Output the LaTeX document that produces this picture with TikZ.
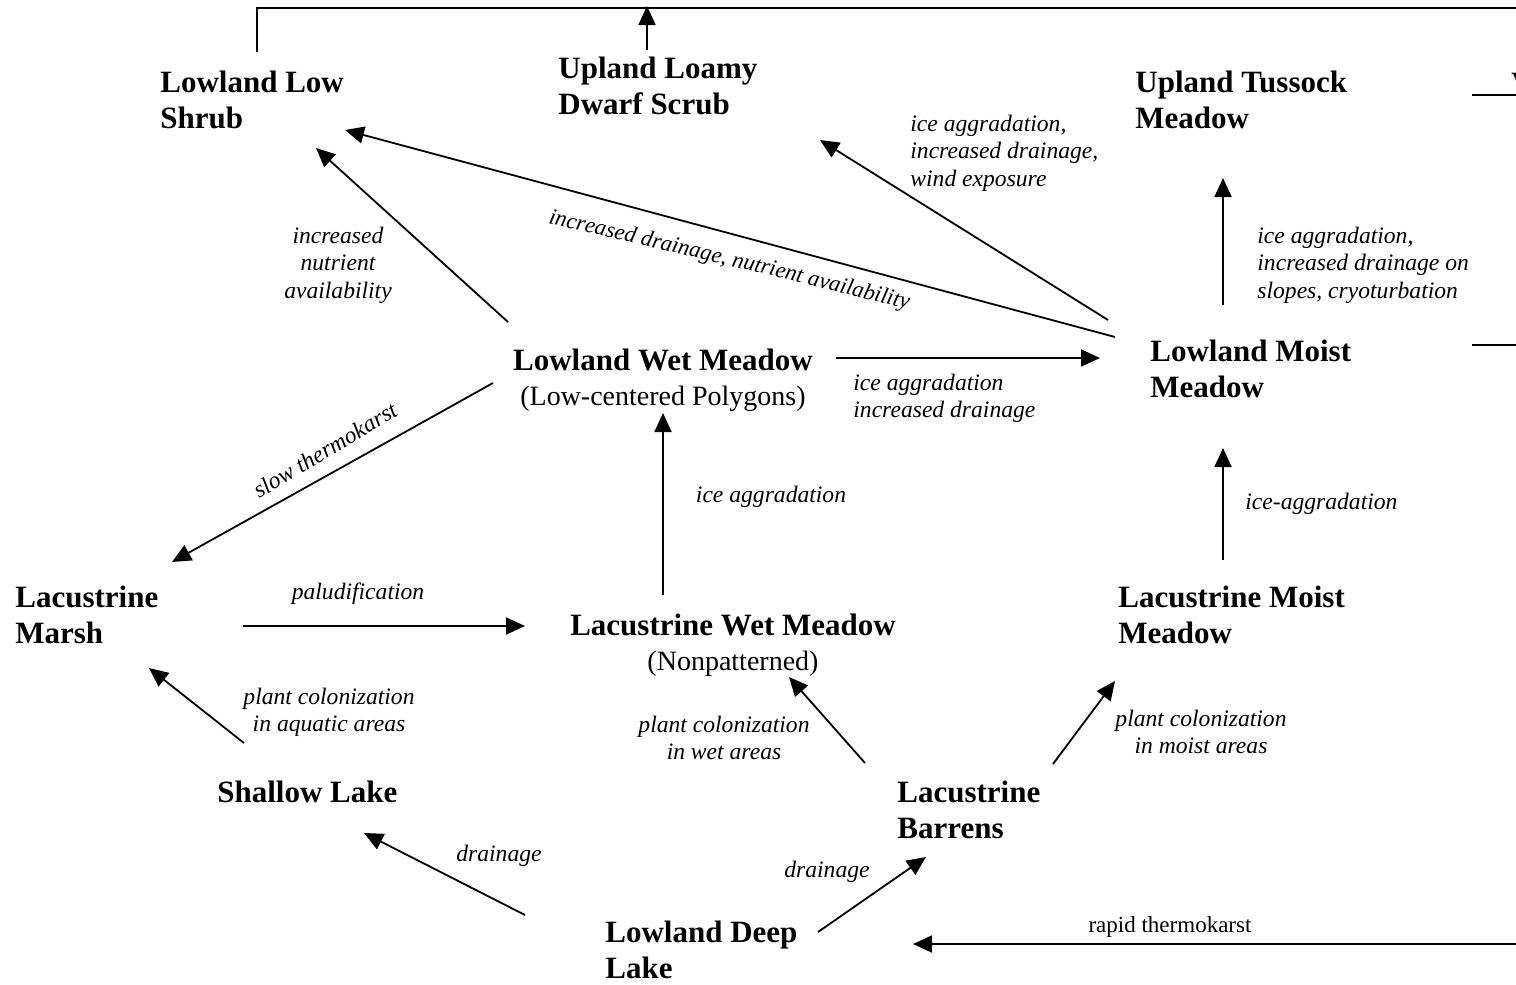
\documentclass[tikz,border=0pt]{standalone}
\usepackage{fontspec}
\setmainfont{Liberation Serif}
\usetikzlibrary{arrows.meta,decorations.text}
\begin{document}
\begin{tikzpicture}[x=0.5pt,y=-0.5pt,
  state/.style={inner sep=0pt, font=\bfseries\fontsize{15.5}{18}\selectfont, align=left, anchor=north west},
  cause/.style={inner sep=0pt, font=\itshape\fontsize{11.8}{13.75}\selectfont, align=center, anchor=north},
  causeL/.style={cause, align=left, anchor=north west},
  flow/.style={line width=0.9pt, -{Triangle[length=9.5pt,width=8.5pt]}},
  link/.style={line width=0.9pt}]
\useasboundingbox (0,0) rectangle (1516,985);

% ---- vegetation / landform states ----
\node[state] (ls)  at (160,71)  {Lowland Low\\Shrub};
\node[state] (ul)  at (558,57)  {Upland Loamy\\Dwarf Scrub};
\node[state] (ut)  at (1135,71) {Upland Tussock\\Meadow};
\node[state] (vx)  at (1511,73) {V};
\node[state, align=center, anchor=north, font=\fontsize{15.5}{17.5}\selectfont] (wm) at (663,349)
  {\textbf{Lowland Wet Meadow}\\{\fontsize{14}{17.5}\selectfont (Low-centered Polygons)}};
\node[state] (mm)  at (1150,340) {Lowland Moist\\Meadow};
\node[state] (lm)  at (15,586)   {Lacustrine\\Marsh};
\node[state, align=center, anchor=north, font=\fontsize{15.5}{17.5}\selectfont] (lwm) at (733,614)
  {\textbf{Lacustrine Wet Meadow}\\{\fontsize{14}{17.5}\selectfont (Nonpatterned)}};
\node[state] (lmm) at (1118,586) {Lacustrine Moist\\Meadow};
\node[state] (sl)  at (217,781)  {Shallow Lake};
\node[state] (lb)  at (897,781)  {Lacustrine\\Barrens};
\node[state] (dl)  at (605,921)  {Lowland Deep\\Lake};

% ---- connector end points ----
\coordinate (ls-up)   at (257,52);
\coordinate (topline) at (1530,8);
\coordinate (ul-up)   at (647,50);
\coordinate (ul-top)  at (647,6);
\coordinate (ut-r1)   at (1472,95);
\coordinate (ut-r2)   at (1530,95);
\coordinate (mm-r1)   at (1472,345);
\coordinate (mm-r2)   at (1530,345);
\coordinate (rt-a)    at (1530,944);
\coordinate (rt-b)    at (913,944);

\coordinate (mm-ls-a) at (1115,337);  \coordinate (mm-ls-b) at (345,130);
\coordinate (mm-ul-a) at (1108,320);  \coordinate (mm-ul-b) at (820,140);
\coordinate (mm-ut-a) at (1223,305);  \coordinate (mm-ut-b) at (1223,178);
\coordinate (wm-ls-a) at (508,322);   \coordinate (wm-ls-b) at (316,148);
\coordinate (wm-mm-a) at (836,358);   \coordinate (wm-mm-b) at (1100,358);
\coordinate (wm-lm-a) at (493,383);   \coordinate (wm-lm-b) at (172,562);
\coordinate (lwm-wm-a) at (663,595);  \coordinate (lwm-wm-b) at (663,413);
\coordinate (lmm-mm-a) at (1223,560); \coordinate (lmm-mm-b) at (1223,448);
\coordinate (lm-lwm-a) at (243,626);  \coordinate (lm-lwm-b) at (525,626);
\coordinate (sl-lm-a) at (244,743);   \coordinate (sl-lm-b) at (149,668);
\coordinate (lb-lwm-a) at (865,763);  \coordinate (lb-lwm-b) at (789,677);
\coordinate (lb-lmm-a) at (1053,764); \coordinate (lb-lmm-b) at (1115,681);
\coordinate (dl-sl-a) at (525,915);   \coordinate (dl-sl-b) at (364,833);
\coordinate (dl-lb-a) at (818,932);   \coordinate (dl-lb-b) at (926,857);

% ---- connectors ----
\draw[link] (ls-up) |- (topline);
\draw[flow] (ul-up) -- (ul-top);
\draw[link] (ut-r1) -- (ut-r2);
\draw[link] (mm-r1) -- (mm-r2);
\draw[flow] (rt-a) -- (rt-b);

\draw[flow] (mm-ls-a) -- (mm-ls-b);
\draw[flow] (mm-ul-a) -- (mm-ul-b);
\draw[flow] (mm-ut-a) -- (mm-ut-b);
\draw[flow] (wm-ls-a) -- (wm-ls-b);
\draw[flow] (wm-mm-a) -- (wm-mm-b);
\draw[flow] (wm-lm-a) -- (wm-lm-b);
\draw[flow] (lwm-wm-a) -- (lwm-wm-b);
\draw[flow] (lmm-mm-a) -- (lmm-mm-b);
\draw[flow] (lm-lwm-a) -- (lm-lwm-b);
\draw[flow] (sl-lm-a) -- (sl-lm-b);
\draw[flow] (lb-lwm-a) -- (lb-lwm-b);
\draw[flow] (lb-lmm-a) -- (lb-lmm-b);
\draw[flow] (dl-sl-a) -- (dl-sl-b);
\draw[flow] (dl-lb-a) -- (dl-lb-b);

% ---- process labels ----
\node[cause]  (t1)  at (338,226.5)  {increased\\nutrient\\availability};
\node[causeL] (t2)  at (910,114.5)  {ice aggradation,\\increased drainage,\\wind exposure};
\node[causeL] (t3)  at (1257,226.5) {ice aggradation,\\increased drainage on\\slopes, cryoturbation};
\node[causeL] (t4)  at (853,373.5)  {ice aggradation\\increased drainage};
\node[cause]  (t5)  at (771,485.5)  {ice aggradation};
\node[causeL] (t6)  at (1245,492.5) {ice-aggradation};
\node[cause]  (t7)  at (358,582.5)  {paludification};
\node[cause]  (t8)  at (329,687.5)  {plant colonization\\in aquatic areas};
\node[cause]  (t9)  at (724,715.5)  {plant colonization\\in wet areas};
\node[cause]  (t10) at (1201,709.5) {plant colonization\\in moist areas};
\node[cause]  (t11) at (499,844.5)  {drainage};
\node[cause]  (t12) at (827,860.5)  {drainage};
\node[inner sep=0pt, font=\fontsize{11.5}{13}\selectfont] (t13) at (1170,927) {rapid thermokarst};
\node[inner sep=0pt, font=\itshape\fontsize{11.8}{13.75}\selectfont, rotate=31] (t14) at (325,450) {slow thermokarst};

% label set along the long arrow, below it
\path[decorate, decoration={text along path, text align=left,
  text={|\itshape\fontsize{11.4}{13.75}\selectfont|increased drainage, nutrient availability}}]
  (548,223) .. controls (720,263) .. (935,316);

\end{tikzpicture}
\end{document}
